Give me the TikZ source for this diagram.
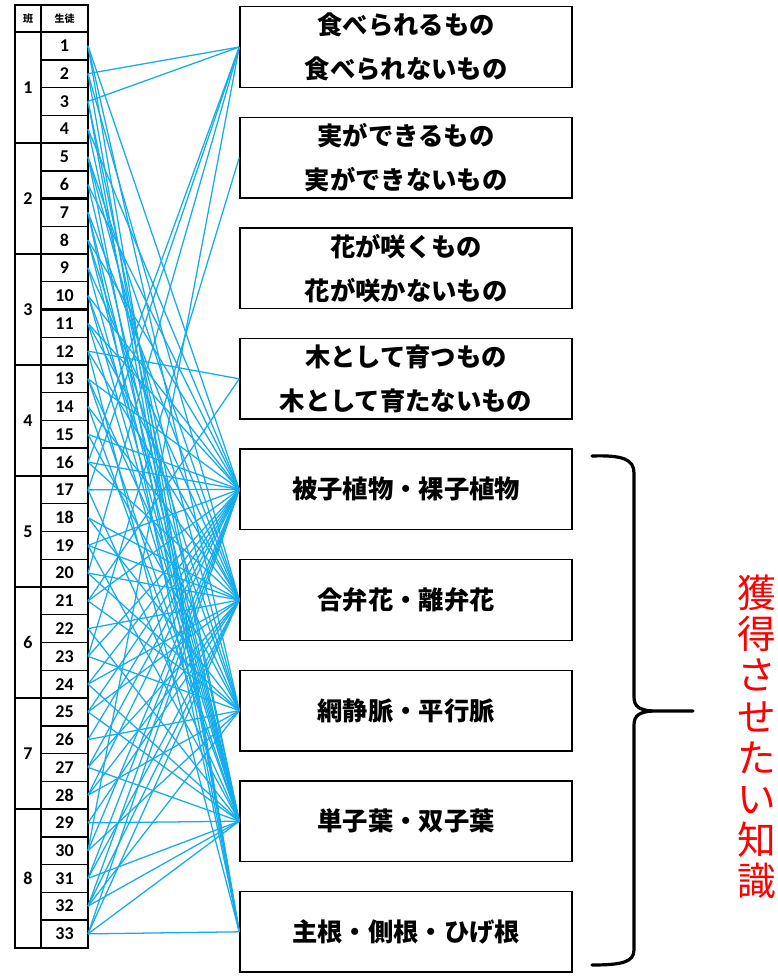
\documentclass[tikz,border=0pt]{standalone}
\usepackage{fontspec}
\newfontfamily\jp{Noto Sans CJK JP}
\newfontfamily\numf{Carlito}
\definecolor{linkblue}{RGB}{20,172,236}
\definecolor{redtxt}{RGB}{255,0,0}
\tikzset{
  conn/.style={draw=linkblue, line width=0.95pt},
  kbox/.style={draw=black, line width=1.1pt, minimum width=249pt, minimum height=60.5pt, inner sep=0pt, align=center, font=\jp\bfseries\fontsize{19}{33}\selectfont},
  num/.style={font=\numf\bfseries\fontsize{13.5}{14}\selectfont, inner sep=0pt},
  hdr/.style={font=\jp\bfseries\fontsize{7.5}{8}\selectfont, inner sep=0pt},
  rowline/.style={line width=0.9pt},
  thickrow/.style={line width=1.8pt}
}
\begin{document}
\begin{tikzpicture}[x=0.75pt,y=-0.75pt]
\useasboundingbox (0,0) rectangle (778,976);
\fill[white] (0,0) rectangle (778,976);

% ---- table ----
\foreach \i in {1,...,32} {
  \draw[rowline] (41,{32+27.75*\i}) -- (88,{32+27.75*\i});
}
\foreach \i in {4,8,12,16,20,24,28} {
  \draw[rowline] (15,{32+27.75*\i}) -- (88,{32+27.75*\i});
}
\foreach \i in {1,5,6,10,15,25,29} {
  \draw[thickrow] (41,{32+27.75*\i}) -- (88,{32+27.75*\i});
}
\draw[thickrow] (15,{32+27.75*24}) -- (88,{32+27.75*24});
\draw[line width=1.6pt] (15,32) -- (88,32);
\draw[line width=1.5pt] (41,5) -- (41,948);
\draw[line width=2.2pt] (15,5) rectangle (88,948);

\node[hdr] (h1) at (28,18.5) {班};
\node[hdr] (h2) at (64.5,18.5) {生徒};

\foreach \k in {1,...,33} {
  \node[num] (n\k) at (64.5,{32+27.75*(\k-0.5)}) {\k};
  \coordinate (s\k) at (88,{32+27.75*(\k-0.5)});
}
\foreach \g in {1,...,7} {
  \node[num] (g\g) at (28,{32+27.75*(4*\g-2)}) {\g};
}
\node[num] (g8) at (28,{32+27.75*30.5}) {8};

% ---- boxes ----
\node[kbox] (b1) at (406,47) {食べられるもの\\食べられないもの};
\node[kbox] (b2) at (406,157.6) {実ができるもの\\実ができないもの};
\node[kbox] (b3) at (406,268.2) {花が咲くもの\\花が咲かないもの};
\node[kbox] (b4) at (406,378.8) {木として育つもの\\木として育たないもの};
\node[kbox] (b5) at (406,489.4) {被子植物・裸子植物};
\node[kbox] (b6) at (406,600) {合弁花・離弁花};
\node[kbox] (b7) at (406,710.6) {網静脈・平行脈};
\node[kbox] (b8) at (406,821.2) {単子葉・双子葉};
\node[kbox] (b9) at (406,931.8) {主根・側根・ひげ根};

% ---- connectors ----
\foreach \s/\b in {1/5,1/7,1/9,2/1,2/6,2/9,3/1,3/8,3/9,4/5,4/8,5/6,5/7,5/9,6/5,6/8,
  7/6,7/8,7/9,8/5,8/7,8/8,9/6,9/8,10/5,10/7,10/8,11/5,11/6,11/8,12/4,12/6,12/9,
  13/5,13/7,13/8,14/6,14/8,15/5,15/7,16/1,16/5,16/6,17/1,17/5,17/8,18/6,18/7,
  19/5,19/6,19/8,20/1,20/6,20/7,21/4,21/5,21/7,22/6,22/8,23/2,23/5,23/7,
  24/5,24/6,24/8,25/5,25/6,25/8,26/5,26/7,27/5,27/6,27/8,28/5,28/6,28/7,
  29/6,29/8,30/1,30/5,30/7,31/5,31/6,31/8,32/5,32/6,32/7,32/8,33/5,33/6,33/8,33/9} {
  \draw[conn] (s\s) -- (b\b.west);
}

% ---- brace ----
\coordinate (brtop) at (592,456);
\coordinate (brtip) at (693,711);
\coordinate (brbot) at (592,965);
\draw[line width=2.4pt, line cap=round] (brtop) .. controls (622,455) and (634,459) .. (634,473)
  -- (634,697) .. controls (634,707) and (640,710) .. (652,711) -- (brtip);
\draw[line width=2.4pt, line cap=round] (652,711) .. controls (640,712) and (634,715) .. (634,725)
  -- (634,950) .. controls (634,962) and (622,965) .. (brbot);

\node[text=redtxt, align=center, inner sep=0pt, font=\jp\fontsize{29}{30.9}\selectfont] (goal) at (757,737)
  {獲\\得\\さ\\せ\\た\\い\\知\\識};
\end{tikzpicture}
\end{document}
